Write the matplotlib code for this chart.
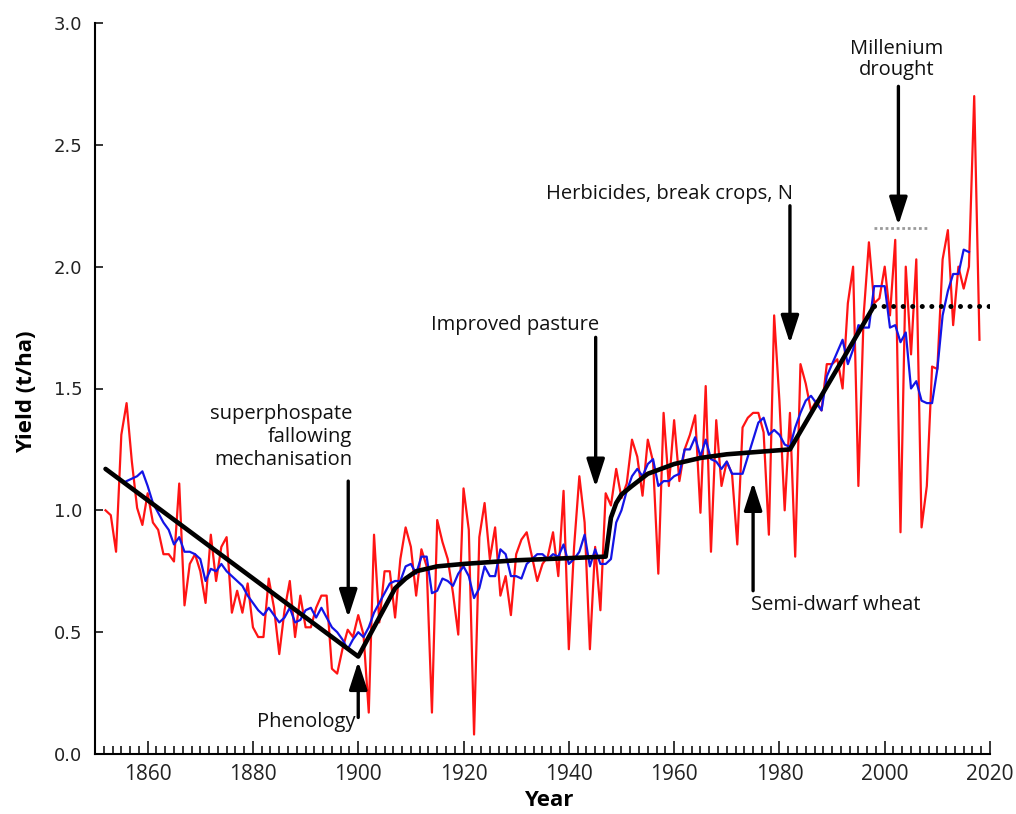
import matplotlib
matplotlib.use("Agg")
import matplotlib.pyplot as plt
from matplotlib.ticker import MultipleLocator, FormatStrFormatter

# annual wheat yield (t/ha), 1852-2018
years = list(range(1852, 2019))
yields = [
    1.00, 0.98, 0.83, 1.31, 1.44, 1.20, 1.01, 0.94,                    # 1852-1859
    1.07, 0.95, 0.92, 0.82, 0.82, 0.79, 1.11, 0.61, 0.78, 0.82,        # 1860s
    0.75, 0.62, 0.90, 0.71, 0.85, 0.89, 0.58, 0.67, 0.58, 0.70,        # 1870s
    0.52, 0.48, 0.48, 0.72, 0.60, 0.41, 0.59, 0.71, 0.48, 0.65,        # 1880s
    0.52, 0.52, 0.60, 0.65, 0.65, 0.35, 0.33, 0.43, 0.51, 0.48,        # 1890s
    0.57, 0.49, 0.17, 0.90, 0.54, 0.75, 0.75, 0.56, 0.80, 0.93,        # 1900s
    0.85, 0.65, 0.84, 0.77, 0.17, 0.96, 0.87, 0.80, 0.66, 0.49,        # 1910s
    1.09, 0.92, 0.08, 0.89, 1.03, 0.80, 0.93, 0.65, 0.73, 0.57,        # 1920s
    0.82, 0.88, 0.91, 0.81, 0.71, 0.78, 0.81, 0.91, 0.73, 1.08,        # 1930s
    0.43, 0.85, 1.14, 0.95, 0.43, 0.85, 0.59, 1.07, 1.02, 1.17,        # 1940s
    1.05, 1.11, 1.29, 1.22, 1.06, 1.29, 1.20, 0.74, 1.40, 1.10,        # 1950s
    1.37, 1.12, 1.25, 1.31, 1.39, 0.99, 1.51, 0.83, 1.37, 1.10,        # 1960s
    1.20, 1.15, 0.86, 1.34, 1.38, 1.40, 1.40, 1.32, 0.90, 1.80,        # 1970s
    1.45, 1.00, 1.40, 0.81, 1.60, 1.52, 1.41, 1.45, 1.41, 1.60,        # 1980s
    1.60, 1.62, 1.50, 1.85, 2.00, 1.10, 1.80, 2.10, 1.85, 1.87,        # 1990s
    2.00, 1.80, 2.11, 0.91, 2.00, 1.64, 2.03, 0.93, 1.10, 1.59,        # 2000s
    1.58, 2.03, 2.15, 1.76, 2.00, 1.91, 2.00, 2.70, 1.70,              # 2010-2018
]

# moving average (blue), 1856-2016
ma_years = list(range(1856, 2017))
ma_yields = [
    1.12, 1.13, 1.14, 1.16,                                            # 1856-1859
    1.10, 1.03, 0.99, 0.95, 0.92, 0.86, 0.89, 0.83, 0.83, 0.82,        # 1860s
    0.80, 0.71, 0.76, 0.75, 0.78, 0.75, 0.73, 0.71, 0.69, 0.65,        # 1870s
    0.62, 0.59, 0.57, 0.60, 0.57, 0.54, 0.56, 0.60, 0.54, 0.55,        # 1880s
    0.59, 0.60, 0.56, 0.60, 0.56, 0.52, 0.50, 0.47, 0.43, 0.47,        # 1890s
    0.50, 0.48, 0.52, 0.58, 0.62, 0.66, 0.70, 0.71, 0.71, 0.77,        # 1900s
    0.78, 0.74, 0.81, 0.81, 0.66, 0.67, 0.72, 0.71, 0.69, 0.74,        # 1910s
    0.77, 0.73, 0.64, 0.68, 0.77, 0.73, 0.73, 0.84, 0.82, 0.73,        # 1920s
    0.73, 0.72, 0.78, 0.80, 0.82, 0.82, 0.80, 0.82, 0.81, 0.86,        # 1930s
    0.78, 0.80, 0.83, 0.90, 0.77, 0.84, 0.78, 0.78, 0.80, 0.95,        # 1940s
    1.00, 1.08, 1.14, 1.17, 1.14, 1.19, 1.21, 1.10, 1.12, 1.12,        # 1950s
    1.14, 1.15, 1.25, 1.25, 1.30, 1.22, 1.29, 1.21, 1.20, 1.17,        # 1960s
    1.20, 1.15, 1.15, 1.15, 1.22, 1.29, 1.36, 1.38, 1.31, 1.33,        # 1970s
    1.31, 1.27, 1.26, 1.34, 1.40, 1.45, 1.47, 1.44, 1.41, 1.55,        # 1980s
    1.60, 1.65, 1.70, 1.60, 1.66, 1.76, 1.75, 1.75, 1.92, 1.92,        # 1990s
    1.92, 1.75, 1.76, 1.69, 1.73, 1.50, 1.53, 1.45, 1.44, 1.44,        # 2000s
    1.58, 1.80, 1.90, 1.97, 1.97, 2.07, 2.06,                          # 2010-2016
]

# fitted trend (black)
trend_years = [1852, 1900, 1907, 1909, 1911, 1915, 1920, 1930, 1947,
               1948, 1949, 1950, 1952, 1955, 1960, 1965, 1970, 1982, 1998]
trend_yields = [1.17, 0.40, 0.68, 0.72, 0.75, 0.77, 0.78, 0.795, 0.81,
                0.97, 1.03, 1.065, 1.10, 1.15, 1.19, 1.215, 1.23, 1.25, 1.84]

plateau_years = [1998, 2020]
plateau_yield = 1.84
drought_ref_years = [1998, 2008]
drought_ref_yield = 2.16

fig = plt.figure(figsize=(10.16, 8.14), dpi=100)
ax = fig.add_axes([95 / 1016, 1 - 754 / 814, 895 / 1016, 731 / 814])

ax.plot(years, yields, color="#ff1414", lw=1.6, zorder=2)
ax.plot(ma_years, ma_yields, color="#1414e6", lw=1.6, zorder=3)
ax.plot(trend_years, trend_yields, color="black", lw=3.3,
        solid_capstyle="round", solid_joinstyle="round", zorder=4)
ax.plot(plateau_years, [plateau_yield] * 2, color="black", lw=3.6,
        linestyle=(0, (0.01, 1.9)), dash_capstyle="round", zorder=4)
ax.plot(drought_ref_years, [drought_ref_yield] * 2, color="#9a9a9a", lw=2,
        linestyle=(0, (1, 1)), zorder=4)

ax.set_xlim(1850, 2020)
ax.set_ylim(0, 3.0)
ax.spines["top"].set_visible(False)
ax.spines["right"].set_visible(False)
for s in ("left", "bottom"):
    ax.spines[s].set_linewidth(1.5)

ax.xaxis.set_major_locator(MultipleLocator(20))
ax.xaxis.set_minor_locator(MultipleLocator(5 / 3))
ax.yaxis.set_major_locator(MultipleLocator(0.5))
ax.yaxis.set_major_formatter(FormatStrFormatter("%.1f"))
ax.tick_params(axis="x", which="major", direction="in", length=9.5, width=1.1, pad=7)
ax.tick_params(axis="x", which="minor", direction="in", length=5.5, width=1.1)
ax.tick_params(axis="y", which="major", direction="in", length=6, width=1.1, pad=9)
for lab in ax.get_xticklabels():
    lab.set_fontfamily("Open Sans")
    lab.set_fontsize(15)
    lab.set_color("#222222")
for lab in ax.get_yticklabels():
    lab.set_fontfamily("DejaVu Sans")
    lab.set_fontsize(13)
    lab.set_color("#222222")

fig.text(27 / 1016, 1 - 392 / 814, "Yield (t/ha)", rotation=90, ha="center",
         va="center", family="Open Sans", weight="bold", fontsize=16)
fig.text(549 / 1016, 1 - 801 / 814, "Year", ha="center", va="center",
         family="Open Sans", weight="bold", fontsize=16)

# arrows: (tail, tip)
arrows = [
    ((1898.1, 1.12), (1898.1, 0.56)),
    ((1900.0, 0.15), (1900.0, 0.38)),
    ((1945.1, 1.71), (1945.1, 1.095)),
    ((1982.0, 2.25), (1982.0, 1.685)),
    ((1975.0, 0.67), (1975.0, 1.115)),
    ((2002.6, 2.74), (2002.6, 2.17)),
]
for tail, tip in arrows:
    ax.annotate("", xy=tip, xytext=tail,
                arrowprops=dict(arrowstyle="-|>,head_length=1.7,head_width=0.55",
                                color="black", lw=2.4, mutation_scale=10,
                                shrinkA=0, shrinkB=0), zorder=5)

txt = dict(family="Open Sans", fontsize=14.5, color="#111111")
ax.text(1898.8, 1.30, "superphospate\nfallowing\nmechanisation", ha="right",
        va="center", multialignment="right", linespacing=1.2, **txt)
ax.text(1890.2, 0.13, "Phenology", ha="center", va="center", **txt)
ax.text(1929.8, 1.76, "Improved pasture", ha="center", va="center", **txt)
ax.text(1959.2, 2.30, "Herbicides, break crops, N", ha="center", va="center", **txt)
ax.text(1990.7, 0.61, "Semi-dwarf wheat", ha="center", va="center", **txt)
ax.text(2002.3, 2.85, "Millenium\ndrought", ha="center", va="center",
        linespacing=1.1, **txt)

fig.savefig("out.png", dpi=100)
